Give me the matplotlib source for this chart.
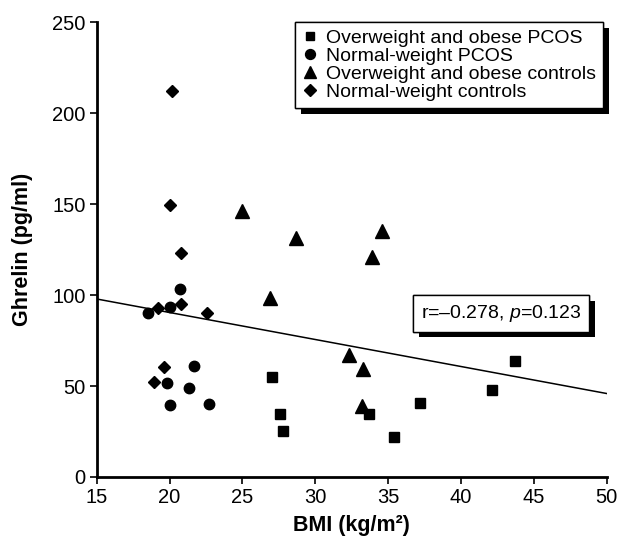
import matplotlib
matplotlib.use("Agg")
import matplotlib.pyplot as plt
import matplotlib.patheffects as pe

plt.rcParams['font.family'] = ['Liberation Sans', 'DejaVu Sans']
plt.rcParams['mathtext.fontset'] = 'custom'
plt.rcParams['mathtext.rm'] = 'Liberation Sans'
plt.rcParams['mathtext.it'] = 'Liberation Sans:italic'

# Overweight and obese PCOS
ow_pcos_bmi = [27.0, 27.6, 27.8, 33.7, 35.4, 37.2, 42.1, 43.7]
ow_pcos_ghrelin = [55.0, 34.7, 25.3, 34.7, 22.2, 40.9, 47.7, 63.6]

# Normal-weight PCOS
nw_pcos_bmi = [18.5, 20.0, 20.7, 21.7, 19.8, 21.3, 20.0, 22.7]
nw_pcos_ghrelin = [90.0, 93.3, 103.2, 61.2, 51.9, 48.8, 39.6, 40.2]

# Overweight and obese controls
ow_ctrl_bmi = [25.0, 28.7, 34.6, 33.9, 26.9, 32.3, 33.3, 33.2]
ow_ctrl_ghrelin = [146.5, 131.3, 135.5, 120.8, 98.6, 67.1, 59.4, 39.2]

# Normal-weight controls
nw_ctrl_bmi = [20.2, 20.0, 20.8, 20.8, 19.2, 22.6, 19.6, 18.9]
nw_ctrl_ghrelin = [212.3, 149.6, 123.4, 95.2, 92.8, 90.0, 60.7, 52.1]

# regression line end points
fit_bmi = [15, 50]
fit_ghrelin = [97.9, 45.9]

fig = plt.figure(figsize=(6.22, 5.42), dpi=100)
ax = fig.add_axes([0.1555, 0.12, 0.8199, 0.8385])

ax.plot(fit_bmi, fit_ghrelin, color='black', linewidth=1.1, zorder=2)

ax.plot(ow_pcos_bmi, ow_pcos_ghrelin, 's', color='black', markersize=6.7,
        linestyle='none', label='Overweight and obese PCOS', zorder=3)
ax.plot(nw_pcos_bmi, nw_pcos_ghrelin, 'o', color='black', markersize=7.5,
        linestyle='none', label='Normal-weight PCOS', zorder=3)
ax.plot(ow_ctrl_bmi, ow_ctrl_ghrelin, '^', color='black', markersize=9.5,
        linestyle='none', label='Overweight and obese controls', zorder=3)
ax.plot(nw_ctrl_bmi, nw_ctrl_ghrelin, 'D', color='black', markersize=6.1,
        linestyle='none', label='Normal-weight controls', zorder=3)

ax.set_xlim(15, 50)
ax.set_ylim(0, 250)
ax.set_xticks(range(15, 51, 5))
ax.set_yticks(range(0, 251, 50))
ax.spines['top'].set_visible(False)
ax.spines['right'].set_visible(False)
ax.spines['left'].set_linewidth(2)
ax.spines['bottom'].set_linewidth(2)
ax.tick_params(direction='out', length=5, width=1.2, labelsize=14.5, pad=3)

ax.set_xlabel('BMI (kg/m\u00b2)', fontsize=15.5, fontweight='bold', labelpad=6)
ax.set_ylabel('Ghrelin (pg/ml)', fontsize=15.5, fontweight='bold', labelpad=14)

shadow = [pe.withSimplePatchShadow(offset=(4.2, -4.2), shadow_rgbFace='black', alpha=1),
          pe.Normal()]

leg = ax.legend(loc='upper right', bbox_to_anchor=(0.993, 1.0), borderaxespad=0,
                fontsize=14, frameon=True, fancybox=False, edgecolor='black',
                facecolor='white', framealpha=1,
                handlelength=0.8, handletextpad=0.45, labelspacing=0.02,
                borderpad=0.35, markerscale=0.95)
leg.get_frame().set_linewidth(1)
leg.get_frame().set_path_effects(shadow)

t = ax.text(0.793, 0.36, 'r=\u20130.278, $p$=0.123', transform=ax.transAxes,
            ha='center', va='center', fontsize=14,
            bbox=dict(boxstyle='square,pad=0.4', facecolor='white',
                      edgecolor='black', linewidth=1))
t.get_bbox_patch().set_path_effects(shadow)

fig.savefig('out.png', dpi=100)
